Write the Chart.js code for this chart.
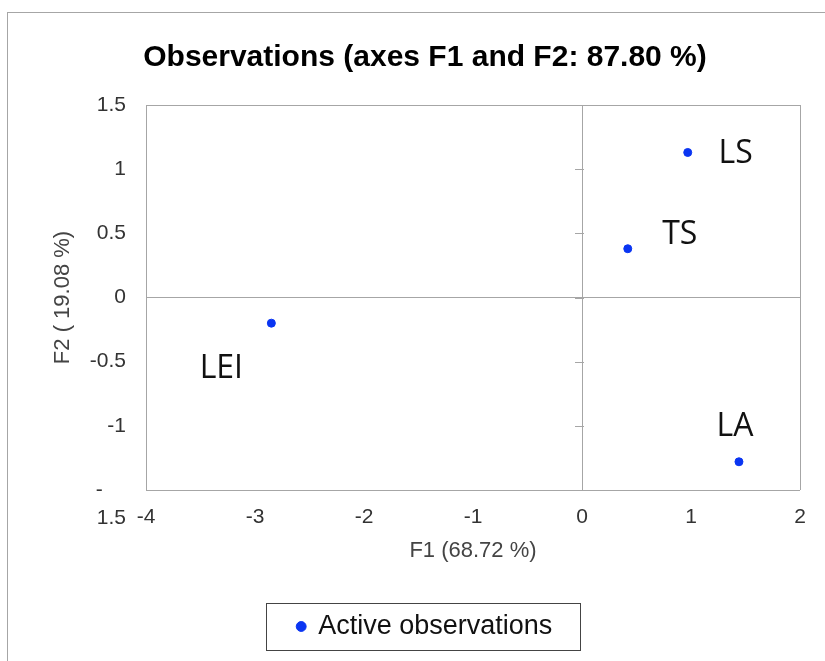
<!DOCTYPE html>
<html lang="en">
<head>
<meta charset="UTF-8">
<title>Observations (axes F1 and F2: 87.80 %)</title>
<style>
  html, body { margin: 0; padding: 0; background: #fff; overflow: hidden; }
  body { width: 825px; height: 661px; position: relative; }
  .frame { position: absolute; left: 7px; top: 12px; width: 900px; height: 800px; border: 1px solid #a6a6a6; box-sizing: border-box; }
  .wrap { position: absolute; left: 0; top: 0; width: 825px; height: 661px; }
</style>
</head>
<body>
<div class="frame"></div>
<div class="wrap"><canvas id="c"></canvas></div>

<script src="https://cdn.jsdelivr.net/npm/chart.js@4.4.1/dist/chart.umd.min.js"></script>
<script>
// observation names and coordinates on F1 / F2
const obsNames = ['LEI', 'TS', 'LS', 'LA'];
const f1 = [-2.85, 0.42, 0.97, 1.44];
const f2 = [-0.20, 0.38, 1.13, -1.28];

const xTicks = [-4, -3, -2, -1, 0, 1, 2];
const yTicks = [-1.5, -1, -0.5, 0, 0.5, 1, 1.5];

const AX = '"Liberation Sans", Arial, sans-serif';
const tickCol = '#333';
const lineCol = '#a6a6a6';

// label offsets in px, relative to each point
const labelOffset = { LEI: [-50, 46], TS: [52, -14], LS: [48, 1], LA: [-4, -35] };

const edgeColor = (min, max) => ctx => {
  const v = ctx.tick.value;
  return (v === 0 || v === min || v === max) ? lineCol : 'transparent';
};

const pointLabels = {
  id: 'pointLabels',
  afterDatasetsDraw(chart) {
    const c = chart.ctx, meta = chart.getDatasetMeta(0);
    c.save();
    c.font = '32px "Open Sans", sans-serif';
    c.fillStyle = '#111';
    c.textAlign = 'center';
    c.textBaseline = 'middle';
    meta.data.forEach((pt, i) => {
      const o = labelOffset[obsNames[i]];
      c.fillText(obsNames[i], pt.x + o[0], pt.y + o[1]);
    });
    c.restore();
  }
};

// little tick marks on the vertical zero axis
const zeroTicks = {
  id: 'zeroTicks',
  beforeDatasetsDraw(chart) {
    const c = chart.ctx, x = chart.scales.x.getPixelForValue(0), y = chart.scales.y;
    c.save();
    c.strokeStyle = lineCol;
    c.lineWidth = 1;
    yTicks.forEach(v => {
      const py = Math.round(y.getPixelForValue(v)) + 0.5;
      c.beginPath(); c.moveTo(x - 7, py); c.lineTo(x + 2, py); c.stroke();
    });
    c.restore();
  }
};

// box around the legend
const legendBox = {
  id: 'legendBox',
  afterDraw(chart) {
    const hb = chart.legend.legendHitBoxes[0];
    if (!hb) return;
    const c = chart.ctx;
    c.save();
    c.strokeStyle = '#444';
    c.lineWidth = 1;
    c.strokeRect(Math.round(hb.left - 32) + 0.5, Math.round(hb.top - 10) + 0.5, Math.round(hb.width + 59), Math.round(hb.height + 20));
    c.restore();
  }
};

new Chart(document.getElementById('c'), {
  type: 'scatter',
  data: {
    datasets: [{
      label: 'Active observations',
      data: f1.map((x, i) => ({ x, y: f2[i] })),
      backgroundColor: '#0a35f2',
      borderColor: '#0a35f2',
      pointRadius: 4,
      pointHoverRadius: 4,
    }]
  },
  options: {
    responsive: true, maintainAspectRatio: false, animation: false,
    layout: { padding: { left: 50, right: 25, top: 0, bottom: 11 } },
    plugins: {
      title: {
        display: true,
        text: 'Observations (axes F1 and F2: 87.80 %)',
        color: '#000',
        font: { family: AX, size: 30, weight: 'bold' },
        padding: { top: 40, bottom: 29 }
      },
      legend: {
        position: 'bottom',
        labels: {
          usePointStyle: true, pointStyle: 'circle', boxWidth: 7, boxHeight: 7,
          color: '#111', font: { family: AX, size: 27 }, padding: 11
        }
      },
      tooltip: { enabled: false }
    },
    scales: {
      x: {
        type: 'linear', min: -4, max: 2,
        afterBuildTicks: s => { s.ticks = xTicks.map(v => ({ value: v })); },
        afterFit: s => { s.height = 112; },
        grid: { color: edgeColor(-4, 2), drawTicks: false },
        border: { display: false },
        ticks: { color: tickCol, font: { family: AX, size: 21 }, padding: 15, autoSkip: false, maxRotation: 0 },
        title: { display: true, text: 'F1 (68.72 %)', color: '#444', font: { family: AX, size: 22 }, padding: { top: 10, bottom: 38 } }
      },
      y: {
        type: 'linear', min: -1.5, max: 1.5,
        afterBuildTicks: s => { s.ticks = yTicks.map(v => ({ value: v })); },
        afterFit: s => { s.width = 96; },
        grid: { color: edgeColor(-1.5, 1.5), drawTicks: false },
        border: { display: false },
        ticks: {
          color: tickCol, font: { family: AX, size: 21, lineHeight: 1.33 }, padding: 20, autoSkip: false,
          callback: v => v === -1.5 ? ['', '-    ', '1.5'] : String(v)
        },
        title: { display: true, text: 'F2 ( 19.08 %)', color: '#444', font: { family: AX, size: 22 }, padding: { top: 0, bottom: 10 } }
      }
    }
  },
  plugins: [zeroTicks, pointLabels, legendBox]
});
</script>
</body>
</html>
